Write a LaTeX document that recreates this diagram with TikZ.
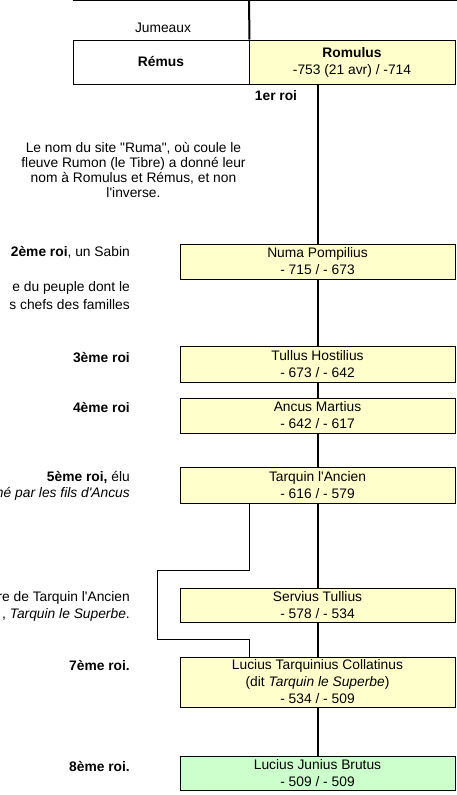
\documentclass[tikz,border=0pt]{standalone}
\usepackage{fontspec}
\setmainfont{Liberation Sans}[Ligatures=TeXOff]
\definecolor{jaune}{RGB}{255,255,204}
\definecolor{vert}{RGB}{204,255,204}

\begin{document}
\begin{tikzpicture}[x=1pt,y=-1pt,font=\fontsize{13.8}{17}\selectfont,
  roi/.style={draw,line width=1pt,fill=jaune,minimum width=275pt,inner sep=0pt,align=center},
  note/.style={anchor=east,inner sep=0pt},
  lien/.style={line width=2pt}]
\useasboundingbox (0,0) rectangle (457,795);

\node [roi,fill=white,minimum width=176pt,minimum height=44pt,at={(161,62)}] (remus) {\textbf{Rémus}};
\node [roi,minimum width=206pt,minimum height=44pt,at={(352,62)}] (romulus) {\textbf{Romulus}\\-753 (21 avr) / -714};
\coordinate (parents) at (249,0.5);
\draw [line width=1pt] (remus.north west |- parents) -- (457,0.5);
\draw [lien] (parents) -- (remus.north east);
\node [at={(163,28)}] (jumeaux) {Jumeaux};
\node [at={(276,96)}] (premier) {\textbf{1er roi}};
\node [at={(133.5,170)},align=center,font=\fontsize{13.8}{15.3}\selectfont] (ruma)
  {Le nom du site "Ruma", où coule le\\fleuve Rumon (le Tibre) a donné leur\\nom à Romulus et Rémus, et non\\l'inverse.};

\node [roi,minimum height=35pt,at={(317.5,261.5)}] (numa) {Numa Pompilius\\- 715 / - 673};
\node [roi,minimum height=36pt,at={(317.5,364)}] (tullus) {Tullus Hostilius\\- 673 / - 642};
\node [roi,minimum height=35pt,at={(317.5,415.5)}] (ancus) {Ancus Martius\\- 642 / - 617};
\node [roi,minimum height=36pt,at={(317.5,485)}] (tarquin) {Tarquin l'Ancien\\- 616 / - 579};
\node [roi,minimum height=34pt,at={(317.5,605)}] (servius) {Servius Tullius\\- 578 / - 534};
\node [roi,minimum height=50pt,at={(317.5,682)}] (superbe) {Lucius Tarquinius Collatinus\\(dit \textit{Tarquin le Superbe})\\- 534 / - 509};
\node [roi,fill=vert,minimum height=34pt,at={(317.5,773)}] (brutus) {Lucius Junius Brutus\\- 509 / - 509};

\node [note,at={(130,252)}] (deux) {\textbf{2ème roi}, un Sabin};
\node [note,at={(130,288)}] (deuxa) {e du peuple dont le};
\node [note,at={(130,305)}] (deuxb) {s chefs des familles};
\node [note,at={(130,358)}] (trois) {\textbf{3ème roi}};
\node [note,at={(130,408)}] (quatre) {\textbf{4ème roi}};
\node [note,at={(130,477)}] (cinq) {\textbf{5ème roi,} élu};
\node [note,at={(130,494)}] (cinqa) {\textit{né par les fils d'Ancus}};
\node [note,at={(130,598)}] (six) {re de Tarquin l'Ancien};
\node [note,at={(130,615)}] (sixa) {, \textit{Tarquin le Superbe}.};
\node [note,at={(130,665)}] (sept) {\textbf{7ème roi.}};
\node [note,at={(130,766)}] (huit) {\textbf{8ème roi.}};

\draw [lien] (romulus.south -| numa.north) -- (numa.north);
\draw [lien] (numa) -- (tullus);
\draw [lien] (tullus) -- (ancus);
\draw [lien] (ancus) -- (tarquin);
\draw [lien] (tarquin) -- (servius);
\draw [lien] (servius) -- (superbe);
\draw [lien] (superbe) -- (brutus);
\draw [line width=1pt] (tarquin.south -| remus.east) -- ++(0,67) -- ++(-92,0) -- ++(0,69) -- ++(92,0) -- (superbe.north -| remus.east);
\end{tikzpicture}
\end{document}
